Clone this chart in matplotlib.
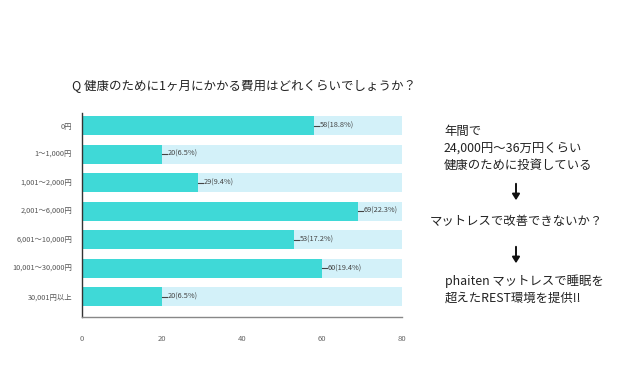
import matplotlib
matplotlib.use("Agg")
import matplotlib.pyplot as plt

plt.rcParams['font.family'] = ['Noto Sans CJK JP', 'DejaVu Sans']

categories = ["0円", "1〜1,000円", "1,001〜2,000円", "2,001〜6,000円",
              "6,001〜10,000円", "10,001〜30,000円", "30,001円以上"]
values = [58, 20, 29, 69, 53, 60, 20]
percents = [18.8, 6.5, 9.4, 22.3, 17.2, 19.4, 6.5]
x_ticks = [0, 20, 40, 60, 80]
x_max = 80
title = "Q 健康のために1ヶ月にかかる費用はどれくらいでしょうか？"

fig = plt.figure(figsize=(6.4, 3.78), dpi=100)
ax = fig.add_axes([0.128, 0.161, 0.5, 0.54])

pos = list(range(len(categories)))
ax.barh(pos, [x_max] * len(pos), height=0.667, color="#d3f1f9", zorder=1)
ax.barh(pos, values, height=0.667, color="#3fd9d7", zorder=2)

for p, v, pc in zip(pos, values, percents):
    ax.plot([v, v + 1.3], [p, p], color="#444444", lw=0.8, zorder=3)
    ax.text(v + 1.4, p, f"{v}({pc}%)", va="center", ha="left",
            fontsize=5.3, color="#444444", zorder=3)

ax.set_xlim(0, x_max)
ax.set_ylim(6.72, -0.44)
ax.set_yticks(pos)
ax.set_yticklabels(categories, fontsize=5.3, color="#555555")
ax.set_xticks(x_ticks)
ax.set_xticklabels([str(t) for t in x_ticks], fontsize=5.5, color="#666666")
ax.tick_params(axis='both', length=0)
ax.tick_params(axis='x', pad=13)
ax.tick_params(axis='y', pad=7)
for s in ["top", "right"]:
    ax.spines[s].set_visible(False)
ax.spines["left"].set_color("#333333")
ax.spines["left"].set_linewidth(1.0)
ax.spines["bottom"].set_color("#888888")
ax.spines["bottom"].set_linewidth(1.0)

fig.text(244 / 640, 1 - 86 / 378, title, ha="center", va="center",
         fontsize=9, color="#222222")

tc = "#222222"
fs = 8.9
fig.text(444 / 640, 1 - 131 / 378, "年間で", ha="left", va="center", fontsize=fs, color=tc)
fig.text(444 / 640, 1 - 148 / 378, "24,000円〜36万円くらい", ha="left", va="center", fontsize=fs, color=tc)
fig.text(444 / 640, 1 - 165 / 378, "健康のために投資している", ha="left", va="center", fontsize=fs, color=tc)
fig.text(516 / 640, 1 - 222 / 378, "マットレスで改善できないか？", ha="center", va="center", fontsize=fs, color=tc)
fig.text(445 / 640, 1 - 281 / 378, "phaiten マットレスで睡眠を", ha="left", va="center", fontsize=fs, color=tc)
fig.text(445 / 640, 1 - 298 / 378, "超えたREST環境を提供!!", ha="left", va="center", fontsize=fs, color=tc)

for ytop, ybot in [(181, 203), (244, 266)]:
    fig.add_artist(matplotlib.patches.FancyArrowPatch(
        (516 / 640, 1 - ytop / 378), (516 / 640, 1 - ybot / 378),
        transform=fig.transFigure, arrowstyle="-|>,head_length=3.5,head_width=2.2",
        color="#111111", lw=1.4, mutation_scale=1))

fig.savefig("out.png", dpi=100, facecolor="white")
